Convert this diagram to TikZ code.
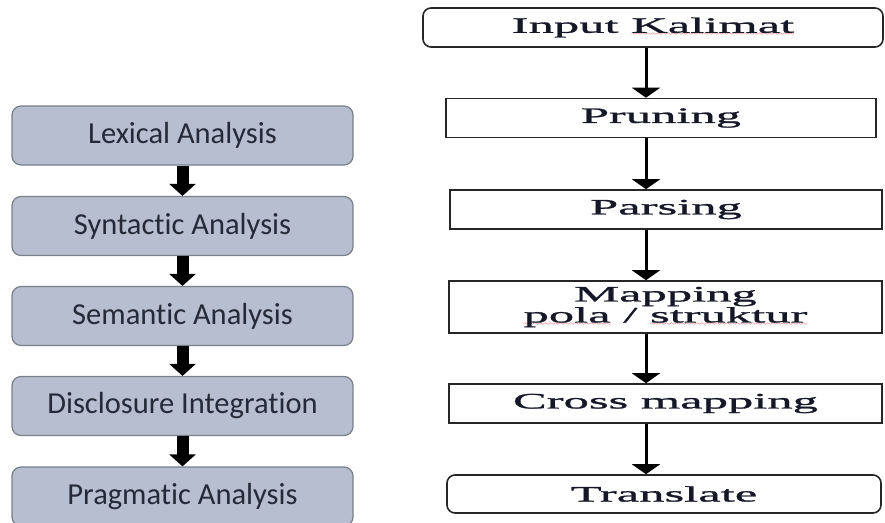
\documentclass[tikz,border=0pt]{standalone}
\usepackage{fontspec}
\usepackage{tikz}
\usetikzlibrary{arrows.meta,positioning,calc}
\newfontfamily\boxfont[Ligatures=NoCommon]{Carlito}
\newfontfamily\flowfont[FakeStretch=2.3,FakeBold=1.2]{Liberation Serif}
\definecolor{boxFill}{RGB}{182,190,207}
\definecolor{boxLine}{RGB}{120,126,138}
\definecolor{boxText}{RGB}{38,42,56}
\definecolor{flowText}{RGB}{22,24,40}
\font\wavefont=lasy6
\newsavebox{\wavebox}
\newcommand{\redwave}[1]{\sbox{\wavebox}{#1}%
  \rlap{\lower3pt\hbox to\wd\wavebox{\color{red}\xleaders\hbox{\wavefont\char58}\hfill}}%
  \usebox{\wavebox}}

\begin{document}
\begin{tikzpicture}[x=1pt,y=-1pt,
    leftbox/.style={draw=boxLine, line width=1.2pt, fill=boxFill, rounded corners=9pt,
      minimum width=341pt, minimum height=59pt, inner sep=0pt,
      text=boxText, font=\boxfont\fontsize{30.5}{33}\selectfont},
    rightbox/.style={draw=black!85, line width=1.6pt, fill=white,
      minimum height=39pt, inner sep=0pt,
      text=flowText, font=\flowfont\fontsize{22}{21}\selectfont, align=center},
    rightround/.style={rightbox, rounded corners=8pt},
    blockarr/.style={line width=12pt, -{Triangle[width=26pt,length=12pt]}},
    thinarr/.style={line width=3pt, -{Triangle[width=28pt,length=10pt]}}]
    \useasboundingbox (0,0) rectangle (885,522);
    % left column
    \node[leftbox] (lex)  at (182.5,135.5) {Lexical Analysis};
    \node[leftbox] (syn)  at (182.5,226)   {Syntactic Analysis};
    \node[leftbox] (sem)  at (182.5,316)   {Semantic Analysis};
    \node[leftbox] (dis)  at (182.5,406)   {Disclosure Integration};
    \node[leftbox] (prag) at (182.5,496.5) {Pragmatic Analysis};
    \draw[blockarr] (lex.south) -- (syn.north);
    \draw[blockarr] (syn.south) -- (sem.north);
    \draw[blockarr] (sem.south) -- (dis.north);
    \draw[blockarr] (dis.south) -- (prag.north);
    % right column
    \node[rightround, minimum width=460pt] (inp) at (653,27.5) {Input \redwave{Kalimat}};
    \node[rightbox, minimum width=430pt] (prun) at (661,118) {Pruning};
    \node[rightbox, minimum width=432pt] (pars) at (666,209.5) {Parsing};
    \node[rightbox, minimum width=433pt, minimum height=52pt] (mapp) at (665.5,307)
      {Mapping\\\redwave{pola} / \redwave{struktur}};
    \node[rightbox, minimum width=433pt] (cross) at (665.5,403.5) {Cross mapping};
    \node[rightround, minimum width=434pt, minimum height=38pt] (trans) at (664,494) {Translate};
    \coordinate (ax) at (646,0);
    \draw[thinarr] (inp.south -| ax) -- (prun.north -| ax);
    \draw[thinarr] (prun.south -| ax) -- (pars.north -| ax);
    \draw[thinarr] (pars.south -| ax) -- (mapp.north -| ax);
    \draw[thinarr] (mapp.south -| ax) -- (cross.north -| ax);
    \draw[thinarr] (cross.south -| ax) -- (trans.north -| ax);
\end{tikzpicture}
\end{document}
